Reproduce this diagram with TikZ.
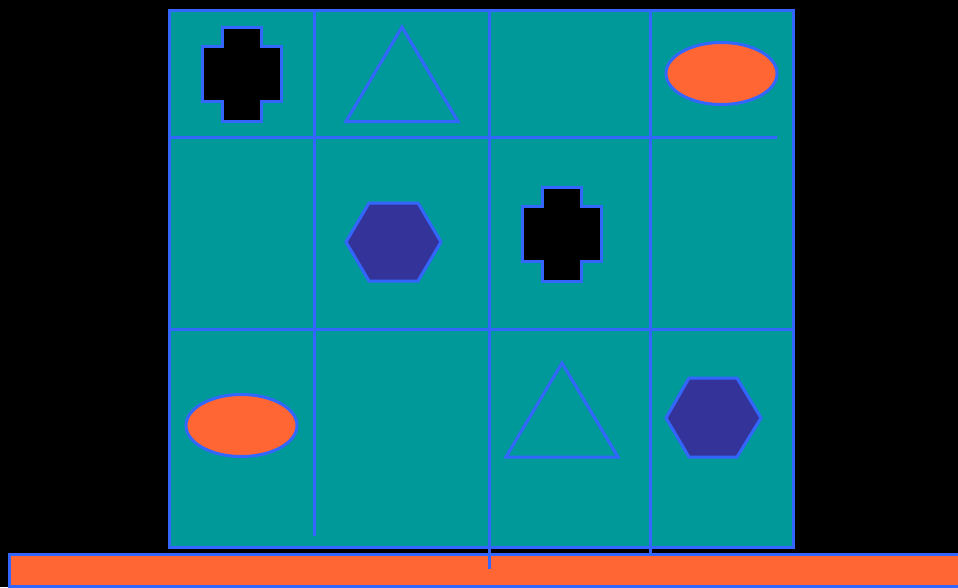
\documentclass[tikz,border=0pt]{standalone}
\definecolor{bgblack}{HTML}{000000}
\definecolor{panelteal}{HTML}{009999}
\definecolor{lineblue}{HTML}{3366FF}
\definecolor{orng}{HTML}{FF6633}
\definecolor{hexfill}{HTML}{333399}
\tikzset{
  edge/.style={draw=lineblue,line width=3pt},
  gridline/.style={draw=lineblue,line width=3pt},
  crossshape/.style={edge,fill=black},
  hexshape/.style={edge,fill=hexfill},
  ellshape/.style={edge,fill=orng},
  trishape/.style={edge,fill=panelteal,line join=miter},
}
\begin{document}
\begin{tikzpicture}[x=1pt,y=-1pt]
\fill[bgblack] (0,0) rectangle (958,587);
\useasboundingbox (0,0) rectangle (958,587);
% orange bar
\draw[edge,fill=orng] (9,554) rectangle (962,586);
% main panel
\draw[edge,fill=panelteal] (169,10) rectangle (793,547);
% grid lines
\draw[gridline] (169,137) -- (777,137);
\draw[gridline] (169,329) -- (793,329);
\draw[gridline] (314,10) -- (314,536);
\draw[gridline] (489,10) -- (489,569);
\draw[gridline] (650,10) -- (650,553);
% crosses
\draw[crossshape] (222,27) -- (261,27) -- (261,46) -- (281,46) -- (281,101) -- (261,101) -- (261,121) -- (222,121) -- (222,101) -- (202,101) -- (202,46) -- (222,46) -- cycle;
\draw[crossshape] (542,187) -- (581,187) -- (581,206) -- (601,206) -- (601,261) -- (581,261) -- (581,281) -- (542,281) -- (542,261) -- (522,261) -- (522,206) -- (542,206) -- cycle;
% hexagons
\draw[hexshape] (346,242) -- (369,203) -- (418,203) -- (441,242) -- (418,281) -- (369,281) -- cycle;
\draw[hexshape] (666,418) -- (689,378) -- (737,378) -- (761,418) -- (737,457) -- (689,457) -- cycle;
% ellipses
\draw[ellshape] (721.5,73.5) ellipse [x radius=55.5,y radius=31];
\draw[ellshape] (241.5,425.5) ellipse [x radius=55.5,y radius=31];
% triangles
\draw[trishape] (402,27) -- (458,121.5) -- (346,121.5) -- cycle;
\draw[trishape] (562,363) -- (618,457) -- (506,457) -- cycle;
\end{tikzpicture}
\end{document}
